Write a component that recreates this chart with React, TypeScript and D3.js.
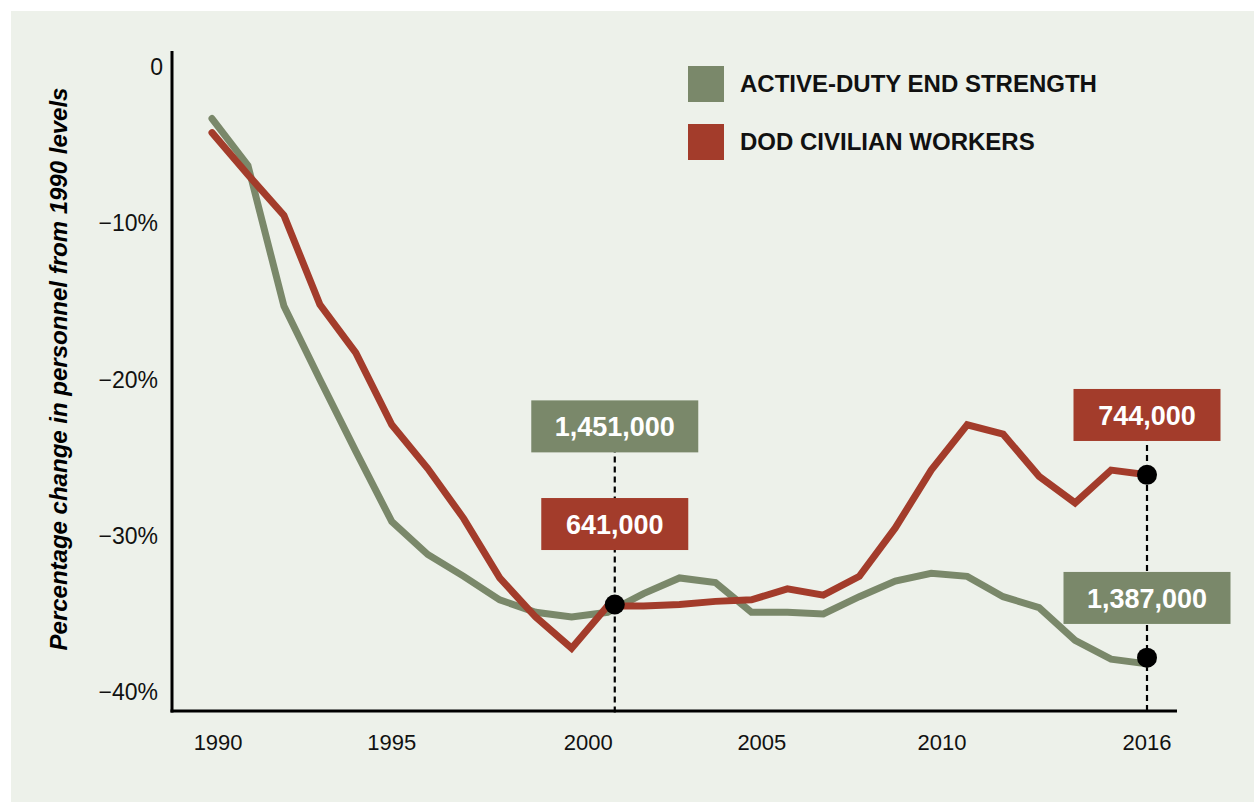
import React from "react";
import * as d3 from "d3";

const years = d3.range(1990, 2017);
const activeDuty = [
  -3.3, -6.3, -15.3, -20.0, -24.6, -29.1, -31.2, -32.6, -34.1, -34.9, -35.2, -34.9,
  -33.7, -32.7, -33.0, -34.9, -34.9, -35.0, -33.9, -32.9, -32.4, -32.6, -33.9, -34.6,
  -36.7, -37.9, -38.2,
];
const civilian = [
  -4.2, -6.9, -9.5, -15.2, -18.3, -22.9, -25.7, -28.9, -32.7, -35.2, -37.2, -34.5,
  -34.5, -34.4, -34.2, -34.1, -33.4, -33.8, -32.6, -29.5, -25.8, -22.9, -23.5, -26.2,
  -27.9, -25.8, -26.1,
];

const seriesNames = ["ACTIVE-DUTY END STRENGTH", "DOD CIVILIAN WORKERS"];
const seriesColors = ["#7a886a", "#a33c2b"];

const xTickLabels = ["1990", "1995", "2000", "2005", "2010", "2016"];
const xTickAt = [1990.17, 1995, 2000.46, 2005.29, 2010.3, 2016];
const yTicks = [0, -10, -20, -30, -40];
const yTickLabels = ["0", "\u221210%", "\u221220%", "\u221230%", "\u221240%"];
const yTitle = "Percentage change in personnel from 1990 levels";

const annoYears = [2001.2, 2016];
const annoDots = [
  [{ s: 0, v: -34.4 }],
  [{ s: 1, v: -26.1 }, { s: 0, v: -37.8 }],
];
const annoLabels = [
  [
    { s: 0, v: -23.0, text: "1,451,000" },
    { s: 1, v: -29.25, text: "641,000" },
  ],
  [
    { s: 1, v: -22.27, text: "744,000" },
    { s: 0, v: -33.98, text: "1,387,000" },
  ],
];

const W = 1254;
const H = 802;
const plotLeft = 172;
const plotRight = 1177;
const plotTop = 51;
const plotBottom = 711;
const FONT = "'Liberation Sans', Arial, Helvetica, sans-serif";

export default function App() {
  const x = d3.scaleLinear().domain([1990, 2016]).range([212, 1147]);
  const y = d3.scaleLinear().domain([0, -40]).range([67, 692]);
  const line = d3
    .line<number>()
    .x((_, i) => x(years[i]))
    .y((d) => y(d));
  const data = [activeDuty, civilian];

  return (
    <svg
      width={W}
      height={H}
      style={{ position: "absolute", left: 0, top: 0, background: "#fff" }}
      fontFamily={FONT}
    >
      <rect x={11} y={11} width={W - 11} height={H - 11} fill="#edf1ea" />

      <text
        transform={`translate(67,369) rotate(-90)`}
        textAnchor="middle"
        fontSize={24}
        fontWeight="bold"
        fontStyle="italic"
        fill="#000"
      >
        {yTitle}
      </text>

      {yTicks.map((t, i) => (
        <text
          key={t}
          x={t === 0 ? 163 : 158}
          y={y(t)}
          dy="0.35em"
          textAnchor="end"
          fontSize={23}
          fill="#111"
        >
          {yTickLabels[i]}
        </text>
      ))}

      {xTickLabels.map((lab, i) => (
        <text
          key={lab}
          x={x(xTickAt[i])}
          y={750}
          textAnchor="middle"
          fontSize={22}
          fill="#111"
        >
          {lab}
        </text>
      ))}

      {annoYears.map((yr, i) => {
        const tops = annoLabels[i].map((l) => y(l.v));
        return (
          <line
            key={yr}
            x1={x(yr)}
            x2={x(yr)}
            y1={Math.min(...tops)}
            y2={plotBottom + 2}
            stroke="#000"
            strokeWidth={2.2}
            strokeDasharray="6,4"
          />
        );
      })}

      {data.map((d, i) => (
        <path
          key={i}
          d={line(d) || ""}
          fill="none"
          stroke={seriesColors[i]}
          strokeWidth={7}
          strokeLinejoin="miter"
          strokeLinecap="round"
        />
      ))}

      <line x1={plotLeft} x2={plotLeft} y1={plotTop} y2={plotBottom + 1.5} stroke="#000" strokeWidth={3} />
      <line x1={plotLeft - 1.5} x2={plotRight} y1={plotBottom} y2={plotBottom} stroke="#000" strokeWidth={3} />

      {annoYears.map((yr, i) =>
        annoLabels[i].map((l, j) => {
          const bw = l.text.length > 7 ? 167 : 147;
          const bh = 52;
          return (
            <g key={`${i}-${j}`}>
              <rect
                x={x(yr) - bw / 2}
                y={y(l.v) - bh / 2}
                width={bw}
                height={bh}
                fill={seriesColors[l.s]}
              />
              <text
                x={x(yr)}
                y={y(l.v)}
                dy="0.36em"
                textAnchor="middle"
                fontSize={27}
                fontWeight="bold"
                fill="#fff"
              >
                {l.text}
              </text>
            </g>
          );
        })
      )}

      {annoYears.map((yr, i) =>
        annoDots[i].map((p, j) => (
          <circle key={`${i}-${j}`} cx={x(yr)} cy={y(p.v)} r={10} fill="#000" />
        ))
      )}

      {seriesNames.map((name, i) => (
        <g key={name} transform={`translate(688,${66 + i * 58})`}>
          <rect width={36} height={36} fill={seriesColors[i]} />
          <text x={52} y={18} dy="0.35em" fontSize={24} fontWeight="bold" fill="#111">
            {name}
          </text>
        </g>
      ))}
    </svg>
  );
}
